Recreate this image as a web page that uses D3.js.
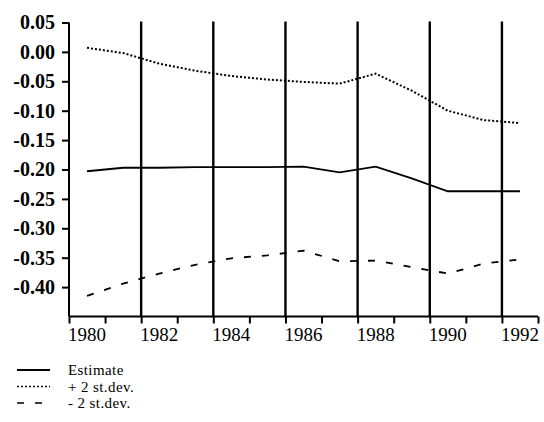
<!DOCTYPE html>
<html>
<head>
<meta charset="utf-8">
<script src="https://cdn.jsdelivr.net/npm/d3@7"></script>
<style>
	body { margin: 0; background: #fff; }
	svg { display: block; }
	text { font-family: "Liberation Serif", "DejaVu Serif", serif; fill: #000; }
</style>
</head>
<body>
<div id="chart"></div>
<script>
// data, one point per year (drawn at the middle of the year band)
var years = [1980, 1981, 1982, 1983, 1984, 1985, 1986, 1987, 1988, 1989, 1990, 1991, 1992];
var estimate = [-0.203, -0.197, -0.197, -0.196, -0.196, -0.196, -0.195, -0.205, -0.195, -0.215, -0.237, -0.237, -0.237];
var plus2sd = [0.007, -0.002, -0.020, -0.032, -0.041, -0.047, -0.051, -0.054, -0.037, -0.066, -0.100, -0.116, -0.121];
var minus2sd = [-0.415, -0.394, -0.377, -0.362, -0.351, -0.346, -0.338, -0.356, -0.355, -0.366, -0.377, -0.360, -0.353];

var yTicks = [0.05, 0.00, -0.05, -0.10, -0.15, -0.20, -0.25, -0.30, -0.35, -0.40];
var xLabelYears = [1980, 1982, 1984, 1986, 1988, 1990, 1992];
var breakYears = [1982, 1984, 1986, 1988, 1990, 1992];

var legendItems = [
	{label: 'Estimate', dash: null},
	{label: '+ 2 st.dev.', dash: '2,2'},
	{label: '- 2 st.dev.', dash: '7,11'}
];

var width = 544, height = 422;

var svg = d3.select('#chart').append('svg')
	.attr('width', width)
	.attr('height', height);

var x = d3.scaleLinear().domain([1980, 1993]).range([69, 538]);
var y = d3.scaleLinear().domain([-0.45, 0.05]).range([316.5, 22.5]);

// y axis
var yAxis = d3.axisLeft(y)
	.tickValues(yTicks)
	.tickSize(7)
	.tickPadding(7)
	.tickFormat(d3.format('.2f'));

var gy = svg.append('g')
	.attr('transform', 'translate(' + x(1980) + ',0)')
	.call(yAxis);
gy.select('.domain').attr('d', 'M0,' + y(0.05) + 'V' + y(-0.45)).attr('stroke-width', 2);
gy.selectAll('.tick line').attr('stroke-width', 2);
gy.selectAll('.tick text')
	.attr('font-family', '"Liberation Serif", serif')
	.attr('font-size', 20)
	.attr('font-weight', 'bold')
	.text(function(d) { return d3.format('.2f')(d).replace('\u2212', '-'); });

// x axis, ticks at year boundaries
var gx = svg.append('g')
	.attr('transform', 'translate(0,' + y(-0.45) + ')')
	.call(d3.axisBottom(x).tickValues(d3.range(1980, 1994)).tickSize(7).tickFormat(''));
gx.select('.domain').attr('d', 'M' + x(1980) + ',0H' + x(1993)).attr('stroke-width', 2);
gx.selectAll('.tick line').attr('stroke-width', 2);

svg.append('g').selectAll('text')
	.data(xLabelYears)
	.join('text')
	.attr('x', function(d) { return x(d + 0.5); })
	.attr('y', 341)
	.attr('text-anchor', 'middle')
	.attr('font-size', 19)
	.text(function(d) { return d; });

// vertical lines
svg.append('g').selectAll('line')
	.data(breakYears)
	.join('line')
	.attr('x1', function(d) { return x(d); })
	.attr('x2', function(d) { return x(d); })
	.attr('y1', y(0.05) - 1)
	.attr('y2', y(-0.45))
	.attr('stroke', '#000')
	.attr('stroke-width', 2.4);

var line = d3.line()
	.x(function(d, i) { return x(years[i] + 0.5); })
	.y(function(d) { return y(d); });

var series = [estimate, plus2sd, minus2sd];
series.forEach(function(s, k) {
	svg.append('path')
		.datum(s)
		.attr('d', line)
		.attr('fill', 'none')
		.attr('stroke', '#000')
		.attr('stroke-width', k === 1 ? 2 : 1.8)
		.attr('stroke-dasharray', legendItems[k].dash);
});

// legend
var lg = svg.append('g').selectAll('g')
	.data(legendItems)
	.join('g')
	.attr('transform', function(d, i) { return 'translate(0,' + (370 + i * 16.5) + ')'; });

lg.append('line')
	.attr('x1', 17)
	.attr('x2', function(d, i) { return i === 2 ? 45 : 50; })
	.attr('stroke', '#000')
	.attr('stroke-width', function(d, i) { return i === 0 ? 1.8 : 1.5; })
	.attr('stroke-dasharray', function(d) { return d.dash; });

lg.append('text')
	.attr('x', 68)
	.attr('y', 5)
	.attr('font-size', 15)
	.attr('letter-spacing', 0.4)
	.text(function(d) { return d.label; });
</script>
</body>
</html>
